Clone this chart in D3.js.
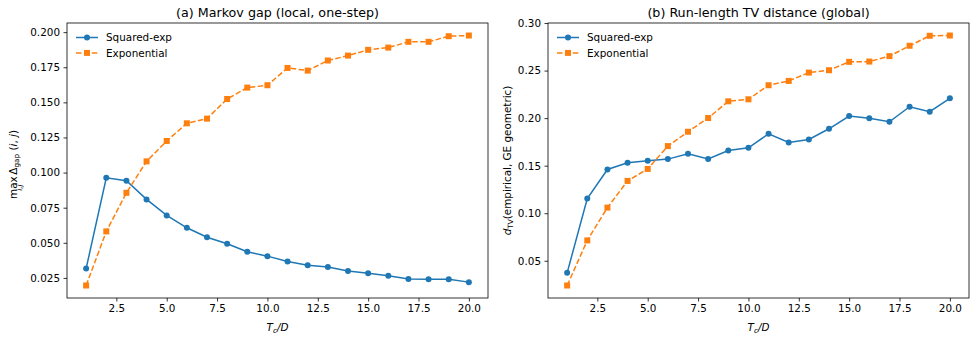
<!DOCTYPE html>
<html>
<head>
<meta charset="utf-8">
<script src="https://cdn.jsdelivr.net/npm/d3@7"></script>
<style>
  body { margin: 0; background: #fff; }
  text { font-family: "DejaVu Sans", sans-serif; fill: #000; }
</style>
</head>
<body>
<svg id="chart"></svg>
<script>
// T_c / D values on the x axis
const tcOverD = [1, 2, 3, 4, 5, 6, 7, 8, 9, 10, 11, 12, 13, 14, 15, 16, 17, 18, 19, 20];

// (a) Markov gap
const gapSquaredExp = [0.0317, 0.0963, 0.0942, 0.0809, 0.0695, 0.0607, 0.0540, 0.0493, 0.0436, 0.0405,
                       0.0367, 0.0341, 0.0327, 0.0300, 0.0284, 0.0265, 0.0243, 0.0241, 0.0240, 0.0220];
const gapExponential = [0.0196, 0.0581, 0.0856, 0.1080, 0.1225, 0.1351, 0.1384, 0.1524, 0.1605, 0.1622,
                        0.1745, 0.1726, 0.1798, 0.1833, 0.1874, 0.1890, 0.1931, 0.1931, 0.1971, 0.1976];

// (b) Run-length TV distance
const tvSquaredExp = [0.0373, 0.1154, 0.1460, 0.1530, 0.1551, 0.1569, 0.1625, 0.1570, 0.1660, 0.1688,
                      0.1835, 0.1745, 0.1776, 0.1888, 0.2022, 0.1998, 0.1962, 0.2120, 0.2068, 0.2209];
const tvExponential = [0.0240, 0.0714, 0.1059, 0.1340, 0.1466, 0.1706, 0.1857, 0.2001, 0.2177, 0.2198,
                       0.2346, 0.2391, 0.2479, 0.2504, 0.2592, 0.2595, 0.2652, 0.2761, 0.2866, 0.2869];

const xTicks = [2.5, 5.0, 7.5, 10.0, 12.5, 15.0, 17.5, 20.0];
const gapTicks = [0.025, 0.050, 0.075, 0.100, 0.125, 0.150, 0.175, 0.200];
const tvTicks = [0.05, 0.10, 0.15, 0.20, 0.25, 0.30];

const seriesNames = ["Squared-exp", "Exponential"];
const colors = ["#1f77b4", "#ff7f0e"];

const width = 977, height = 338;
const svg = d3.select("#chart").attr("width", width).attr("height", height);

// matplotlib-like 5% padding around the data range
function padded(vals) {
  const lo = d3.min(vals), hi = d3.max(vals), m = (hi - lo) * 0.05;
  return [lo - m, hi + m];
}

function drawPanel(cfg) {
  const g = svg.append("g");
  const x = d3.scaleLinear().domain(padded(tcOverD)).range([cfg.left, cfg.right]);
  const y = d3.scaleLinear().domain(padded(cfg.series[0].concat(cfg.series[1]))).range([cfg.bottom, cfg.top]);

  // axes
  const xAxis = g.append("g")
    .attr("transform", `translate(0,${cfg.bottom})`)
    .call(d3.axisBottom(x).tickValues(xTicks).tickFormat(d3.format(".1f")).tickSizeOuter(0).tickSize(3.5).tickPadding(3.5));
  const yAxis = g.append("g")
    .attr("transform", `translate(${cfg.left},0)`)
    .call(d3.axisLeft(y).tickValues(cfg.yTicks).tickFormat(d3.format(cfg.yFormat)).tickSizeOuter(0).tickSize(3.5).tickPadding(3.5));
  [xAxis, yAxis].forEach(a => {
    a.select(".domain").remove();
    a.selectAll(".tick line").attr("stroke", "#000").attr("stroke-width", 0.8);
    a.selectAll(".tick text").attr("font-size", 10.4).attr("font-family", "DejaVu Sans").attr("fill", "#000");
  });

  // series
  const line = d3.line().x((d, i) => x(tcOverD[i])).y(d => y(d));
  cfg.series.forEach((vals, s) => {
    g.append("path")
      .datum(vals)
      .attr("d", line)
      .attr("fill", "none")
      .attr("stroke", colors[s])
      .attr("stroke-width", 1.5)
      .attr("stroke-dasharray", s === 1 ? "5.5,2.4" : null);
    if (s === 0) {
      g.selectAll(null).data(vals).enter().append("circle")
        .attr("cx", (d, i) => x(tcOverD[i])).attr("cy", d => y(d))
        .attr("r", 3).attr("fill", colors[s]);
    } else {
      g.selectAll(null).data(vals).enter().append("rect")
        .attr("x", (d, i) => x(tcOverD[i]) - 3).attr("y", d => y(d) - 3)
        .attr("width", 6).attr("height", 6).attr("fill", colors[s]);
    }
  });

  // frame
  g.append("rect")
    .attr("x", cfg.left).attr("y", cfg.top)
    .attr("width", cfg.right - cfg.left).attr("height", cfg.bottom - cfg.top)
    .attr("fill", "none").attr("stroke", "#000").attr("stroke-width", 0.8);

  // legend
  seriesNames.forEach((name, s) => {
    const ly = cfg.top + 14.5 + s * 15.4;
    const lx = cfg.left + 9;
    g.append("line")
      .attr("x1", lx).attr("x2", lx + 22).attr("y1", ly).attr("y2", ly)
      .attr("stroke", colors[s]).attr("stroke-width", 1.5)
      .attr("stroke-dasharray", s === 1 ? "5.5,2.4" : null);
    if (s === 0) {
      g.append("circle").attr("cx", lx + 11).attr("cy", ly).attr("r", 3).attr("fill", colors[s]);
    } else {
      g.append("rect").attr("x", lx + 8).attr("y", ly - 3).attr("width", 6).attr("height", 6).attr("fill", colors[s]);
    }
    g.append("text")
      .attr("x", lx + 30).attr("y", ly + 3.8)
      .attr("font-size", 10.4)
      .text(name);
  });

  // title
  g.append("text")
    .attr("x", (cfg.left + cfg.right) / 2).attr("y", 17)
    .attr("text-anchor", "middle").attr("font-size", 12.7)
    .text(cfg.title);

  // x label: T_c / D
  const xl = g.append("text")
    .attr("x", (cfg.left + cfg.right) / 2).attr("y", 331)
    .attr("text-anchor", "middle").attr("font-size", 10.4).attr("font-style", "italic");
  xl.append("tspan").text("T");
  xl.append("tspan").attr("dy", 2).attr("font-size", 7.3).text("c");
  xl.append("tspan").attr("dy", -2).text("/D");

  cfg.yLabel(g.append("g")
    .attr("transform", `translate(${cfg.yLabelX},${(cfg.top + cfg.bottom) / 2 + cfg.yLabelShift}) rotate(-90)`));
}

drawPanel({
  left: 67, right: 488, top: 23, bottom: 298,
  series: [gapSquaredExp, gapExponential],
  yTicks: gapTicks, yFormat: ".3f",
  title: "(a) Markov gap (local, one-step)",
  yLabelX: 17, yLabelShift: 4,
  yLabel: lab => {
    const t = lab.append("text").attr("text-anchor", "middle").attr("font-size", 10.4);
    t.append("tspan").text("max");
    t.append("tspan").attr("dx", -14.5).attr("dy", 5).attr("font-size", 7.3).attr("font-style", "italic").text("i,j");
    t.append("tspan").attr("dx", 9.8).attr("dy", -5).text("Δ");
    t.append("tspan").attr("dy", 2).attr("font-size", 7.3).text("gap");
    t.append("tspan").attr("dy", -2).text(" (");
    t.append("tspan").attr("font-style", "italic").text("i");
    t.append("tspan").text(", ");
    t.append("tspan").attr("font-style", "italic").text("j");
    t.append("tspan").text(")");
  }
});

drawPanel({
  left: 548, right: 969, top: 23, bottom: 298,
  series: [tvSquaredExp, tvExponential],
  yTicks: tvTicks, yFormat: ".2f",
  title: "(b) Run-length TV distance (global)",
  yLabelX: 511, yLabelShift: 0,
  yLabel: lab => {
    const t = lab.append("text").attr("text-anchor", "middle").attr("font-size", 10.4);
    t.append("tspan").attr("font-style", "italic").text("d");
    t.append("tspan").attr("dy", 2).attr("font-size", 7.3).text("TV");
    t.append("tspan").attr("dy", -2).text("(empirical, GE geometric)");
  }
});
</script>
</body>
</html>
